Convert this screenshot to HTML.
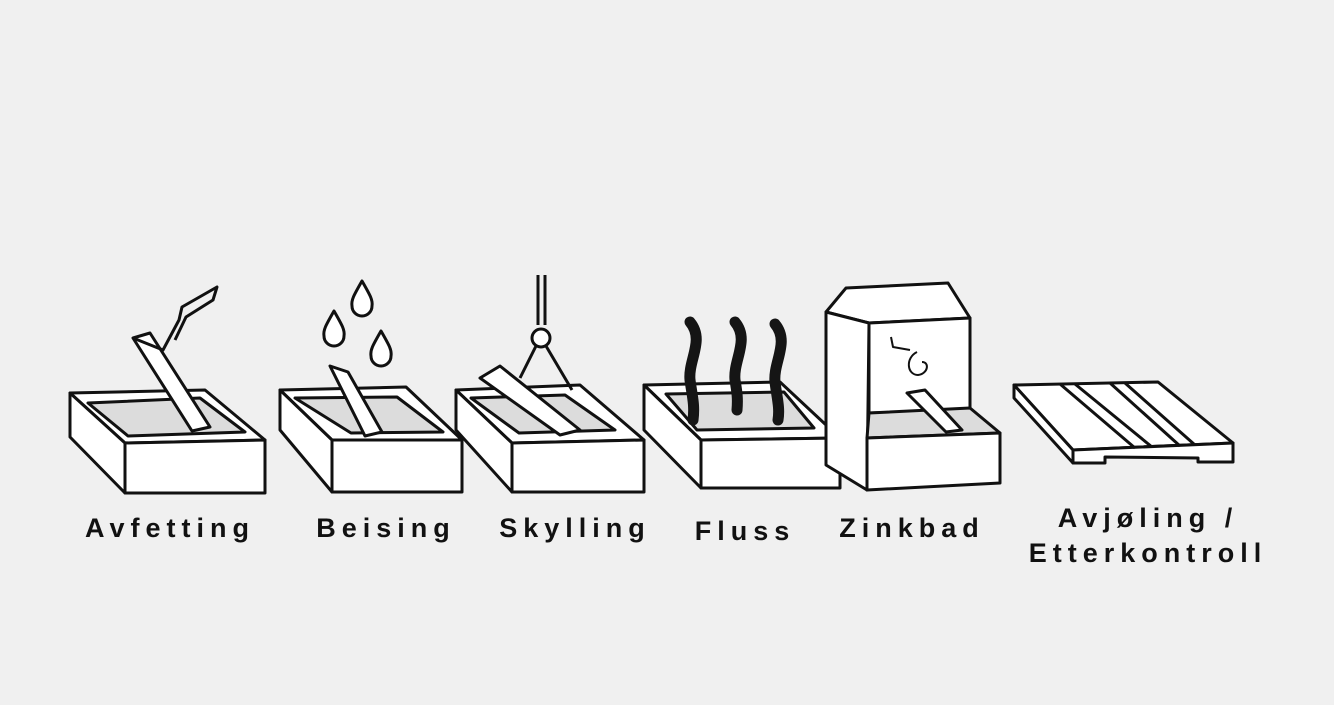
<!DOCTYPE html>
<html><head><meta charset="utf-8"><style>
html,body{margin:0;padding:0;background:#f0f0f0;}
svg{display:block}
text{font-family:"Liberation Sans",sans-serif;font-weight:bold;font-size:27px;letter-spacing:6px;fill:#111;text-anchor:middle}
</style></head><body>
<svg width="1334" height="705" viewBox="0 0 1334 705" xmlns="http://www.w3.org/2000/svg">
<rect width="1334" height="705" fill="#f0f0f0"/>
<g stroke="#111" stroke-width="3" stroke-linejoin="round" fill="#fff">
<!-- Tank 1 -->
<polygon points="70,393 205,390 265,440 125,443"/>
<polygon points="125,443 265,440 265,493 125,493"/>
<polygon points="70,393 125,443 125,493 70,437"/>
<polygon points="88,403 200,398 245,432 128,436" fill="#dcdcdc"/>
<polygon points="133,338 150,333 210,427 192,431"/>
<polyline points="133,338 163,350 179,320 182,307 217,287 213,300 186,317 175,340" fill="none"/>
<!-- Tank 2 -->
<polygon points="280,390 406,387 462,440 332,440"/>
<polygon points="332,440 462,440 462,492 332,492"/>
<polygon points="280,390 332,440 332,492 280,430"/>
<polygon points="295,398 397,397 443,432 351,433" fill="#dcdcdc"/>
<polygon points="330,366 348,372 382,432 365,436"/>
<path d="M362,281 C370,295 373,300 372,306 A10,10 0 0 1 352,306 C351,300 354,295 362,281Z"/>
<path d="M334,311 C342,325 345,330 344,336 A10,10 0 0 1 324,336 C323,330 326,325 334,311Z"/>
<path d="M381,331 C389,345 392,350 391,356 A10,10 0 0 1 371,356 C370,350 373,345 381,331Z"/>
<!-- Tank 3 -->
<polygon points="456,390 580,385 644,440 512,443"/>
<polygon points="512,443 644,440 644,492 512,492"/>
<polygon points="456,390 512,443 512,492 456,430"/>
<polygon points="471,398 565,395 615,430 519,433" fill="#dcdcdc"/>
<line x1="538" y1="275" x2="538" y2="325"/><line x1="545" y1="275" x2="545" y2="325"/>
<circle cx="541" cy="338" r="9"/>
<line x1="536" y1="346" x2="520" y2="378"/><line x1="546" y1="346" x2="572" y2="390"/>
<polygon points="480,378 500,366 580,430 560,435"/>
<!-- Tank 4 Fluss -->
<polygon points="644,385 780,382 840,438 701,440"/>
<polygon points="701,440 840,438 840,488 701,488"/>
<polygon points="644,385 701,440 701,488 644,430"/>
<polygon points="666,394 784,392 814,428 697,430" fill="#dcdcdc"/>
<!-- Zinkbad -->
<polygon points="826,312 846,288 948,283 970,318 869,323"/>
<polygon points="826,312 869,323 867,490 826,465"/>
<polygon points="869,323 970,318 970,410 869,413"/>
<polygon points="869,413 970,408 1000,433 867,438" fill="#dcdcdc"/>
<polygon points="867,438 1000,433 1000,483 867,490"/>
<polygon points="907,393 925,390 962,430 946,432"/>
<path d="M891,337 L893,347 L910,350 M917,352 C905,358 907,375 918,375 C928,374 930,362 922,362" fill="none" stroke-width="2"/>
<!-- Pallet -->
<polygon points="1014,385 1158,382 1233,443 1073,450"/>
<polygon points="1014,385 1073,450 1073,463 1014,398"/>
<polygon points="1073,450 1233,443 1233,462 1198,462 1198,458 1105,457 1105,463 1073,463"/>
<line x1="1060" y1="384" x2="1135" y2="448"/>
<line x1="1075" y1="384" x2="1152" y2="447"/>
<line x1="1110" y1="383" x2="1180" y2="446"/>
<line x1="1125" y1="383" x2="1195" y2="445"/>
</g>
<!-- smoke -->
<g stroke="#151515" stroke-width="11" fill="none" stroke-linecap="round">
<path d="M690,322 C705,340 688,360 690,380 C692,395 695,405 693,420"/>
<path d="M735,322 C750,340 733,360 735,380 C737,392 738,398 737,410"/>
<path d="M775,324 C790,342 773,362 775,382 C777,398 780,408 778,420"/>
</g>
<text x="170" y="537">Avfetting</text>
<text x="386" y="537">Beising</text>
<text x="575" y="537">Skylling</text>
<text x="745" y="540">Fluss</text>
<text x="912" y="537">Zinkbad</text>
<text x="1148" y="527">Avjøling /</text>
<text x="1148" y="562">Etterkontroll</text>
</svg>
</body></html>
